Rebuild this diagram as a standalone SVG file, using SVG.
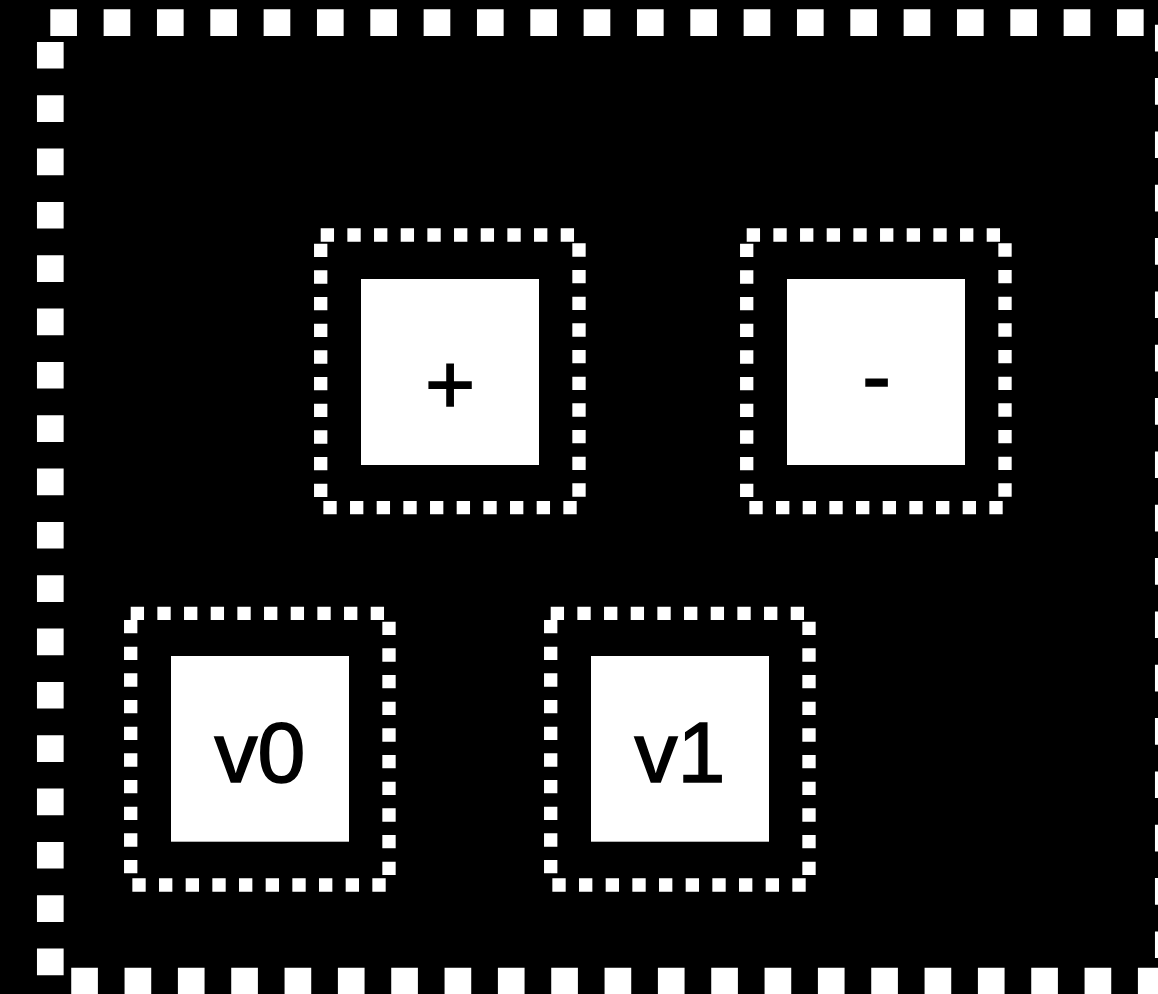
<svg xmlns="http://www.w3.org/2000/svg" width="1158" height="994" viewBox="0 0 1158 994">
  <style>
    .frame { fill: none; stroke: #ffffff; stroke-width: 13.333; stroke-dasharray: 13.333 13.333; }
    .box { fill: #ffffff; stroke: none; }
    .label { font-family: "Liberation Sans", Arial, Helvetica, sans-serif; font-size: 86px; fill: #000000; stroke: #000000; stroke-width: 1.6; text-anchor: middle; }
  </style>
  <rect x="0" y="0" width="1158" height="994" fill="#000000"/>
  <g id="cluster">
    <rect x="50.3" y="22.7" width="1118" height="958.3" fill="none" stroke="#ffffff" stroke-width="26.667" stroke-dasharray="26.667 26.667"/>
  </g>
  <g id="node-plus">
    <rect class="frame" x="320.7" y="235" width="258.3" height="272.7"/>
    <rect class="box" x="361" y="279" width="178" height="186"/>
    <text class="label" x="450" y="413.5">+</text>
  </g>
  <g id="node-minus">
    <rect class="frame" x="746.7" y="235" width="258.3" height="272.7"/>
    <rect class="box" x="787" y="279" width="178" height="186"/>
    <text class="label" x="876.5" y="404.7">-</text>
  </g>
  <g id="node-v0">
    <rect class="frame" x="130.7" y="613.3" width="258.3" height="271.7"/>
    <rect class="box" x="171" y="656" width="178" height="185.7"/>
    <text class="label" x="260" y="782">v0</text>
  </g>
  <g id="node-v1">
    <rect class="frame" x="550.7" y="613.3" width="258.3" height="271.7"/>
    <rect class="box" x="591" y="656" width="178" height="185.7"/>
    <text class="label" x="680" y="782">v1</text>
  </g>
  <g id="connectors"></g>
</svg>
